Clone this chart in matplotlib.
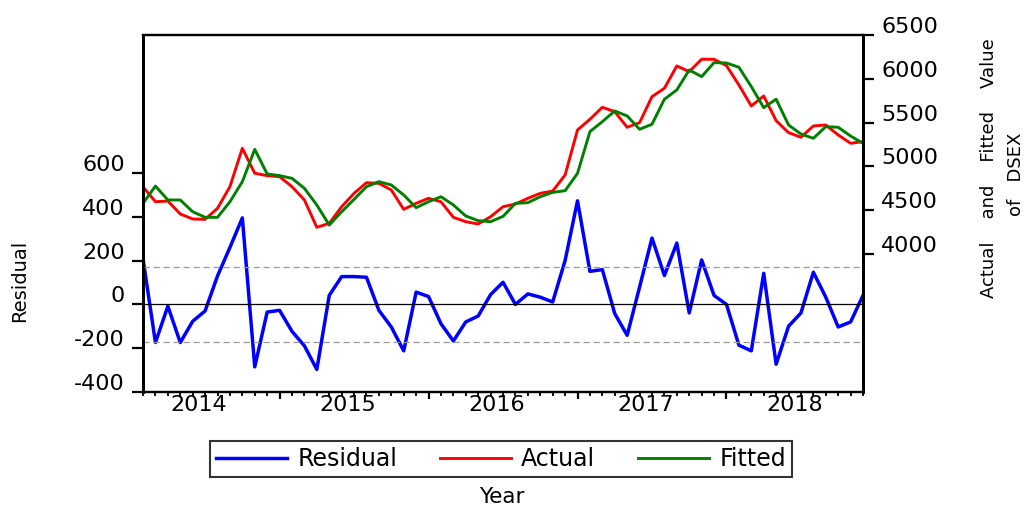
import numpy as np
import pandas as pd
import matplotlib
matplotlib.use('Agg')
import matplotlib.pyplot as plt
from matplotlib.transforms import ScaledTranslation, blended_transform_factory

# monthly observations, Feb 2014 .. Dec 2018
months = pd.period_range('2014-02', '2018-12', freq='M')

residual = [208, -174, -8, -174, -77, -30, 130, 260, 395, -285,
            -35, -27, -123, -189, -297, 41, 127, 127, 124, -27,
            -103, -212, 56, 36, -88, -167, -80, -53, 45, 101,
            0, 48, 33, 11, 200, 473, 151, 159, -42, -141,
            79, 303, 132, 280, -39, 203, 41, 0, -186, -212,
            142, -273, -100, -39, 147, 33, -103, -80, 41]

actual = [4768, 4597, 4605, 4457, 4400, 4396, 4522, 4769, 5207, 4922,
          4895, 4883, 4769, 4617, 4305, 4350, 4540, 4693, 4814, 4807,
          4731, 4510, 4579, 4636, 4597, 4419, 4369, 4343, 4426, 4540,
          4571, 4636, 4693, 4719, 4902, 5416, 5538, 5675, 5625, 5447,
          5500, 5796, 5892, 6147, 6082, 6223, 6223, 6150, 5930, 5690,
          5804, 5523, 5386, 5333, 5462, 5473, 5359, 5264, 5283]

fitted = [4579, 4776, 4617, 4617, 4483, 4419, 4419, 4597, 4826, 5195,
          4914, 4895, 4864, 4750, 4560, 4331, 4483, 4624, 4769, 4826,
          4788, 4674, 4529, 4597, 4654, 4560, 4434, 4381, 4369, 4430,
          4579, 4586, 4654, 4704, 4723, 4921, 5397, 5511, 5633, 5576,
          5424, 5481, 5767, 5873, 6101, 6025, 6185, 6180, 6132, 5911,
          5671, 5767, 5473, 5370, 5321, 5454, 5447, 5347, 5264]

resid_se = 172
left_ticks = [-400, -200, 0, 200, 400, 600]
right_ticks = [4000, 4500, 5000, 5500, 6000, 6500]
years = [2014, 2015, 2016, 2017, 2018]

plt.rcParams['font.family'] = ['DejaVu Sans']
plt.rcParams['axes.unicode_minus'] = False

fig = plt.figure(figsize=(10.29, 5.08), dpi=100)
ax = fig.add_axes([0.139, 0.2283, 0.6997, 0.7028])
x = np.arange(len(months))

l_res, = ax.plot(x, residual, color='#0000ff', lw=2.5)
ax.axhline(0, color='black', lw=0.9)
for v in (resid_se, -resid_se):
    ax.axhline(v, color='#999999', lw=0.9, ls=(0, (5, 3)))

ax2 = ax.twinx()
l_act, = ax2.plot(x, actual, color='#ff0000', lw=2.1)
l_fit, = ax2.plot(x, fitted, color='#008000', lw=2.1)

ax.set_xlim(0, len(months) - 1)
ax.set_ylim(-400, 1230)
ax2.set_ylim(2425, 6500)
ax.set_yticks(left_ticks)
ax2.set_yticks(right_ticks)
ax.tick_params(axis='y', direction='out', length=8, width=1.6, labelsize=16, pad=5)
ax2.tick_params(axis='y', direction='out', length=8, width=1.6, labelsize=16, pad=5)

# month ticks, longer at January
jan = [i for i, m in enumerate(months) if m.month == 1]
ax.set_xticks(jan)
ax.set_xticklabels([])
ax.set_xticks(x, minor=True)
ax.tick_params(axis='x', which='major', direction='out', length=5, width=1.6)
ax.tick_params(axis='x', which='minor', direction='out', length=3, width=1.3)

trans = blended_transform_factory(ax.transData, ax.transAxes)
for yr in years:
    pos = (pd.Period(f'{yr}-01', freq='M') - months[0]).n + 5.5
    ax.text(pos, -0.008, str(yr), transform=trans, ha='center', va='top', fontsize=16)

# tick labels sit a little above their ticks
offset = ScaledTranslation(0, 0.10, fig.dpi_scale_trans)
for lab in ax.get_yticklabels() + ax2.get_yticklabels():
    lab.set_transform(lab.get_transform() + offset)

for a in (ax, ax2):
    for s in a.spines.values():
        s.set_linewidth(1.6)
        s.set_color('black')
    a.spines['left'].set_linewidth(2.0)
    a.spines['right'].set_linewidth(2.0)

fig.text(20 / 1029, 1 - 281 / 508, 'Residual', rotation=90, ha='center', va='center', fontsize=14)
fig.text(502 / 1029, 1 - 497 / 508, 'Year', ha='center', va='center', fontsize=15.5)
fig.text(989 / 1029, 1 - 168 / 508, 'Actual    and    Fitted    Value', rotation=90,
         ha='center', va='center', fontsize=13)
fig.text(1016 / 1029, 1 - 174 / 508, 'of   DSEX', rotation=90,
         ha='center', va='center', fontsize=13)

leg = fig.legend([l_res, l_act, l_fit], ['Residual', 'Actual', 'Fitted'],
                 loc='center', bbox_to_anchor=(501 / 1029, 1 - 459 / 508), ncol=3,
                 fontsize=17, frameon=True, fancybox=False, edgecolor='black',
                 handlelength=3.0, handletextpad=0.45, columnspacing=1.8, borderpad=0.25)
leg.get_frame().set_linewidth(1.5)

fig.savefig('out.png', dpi=100)
